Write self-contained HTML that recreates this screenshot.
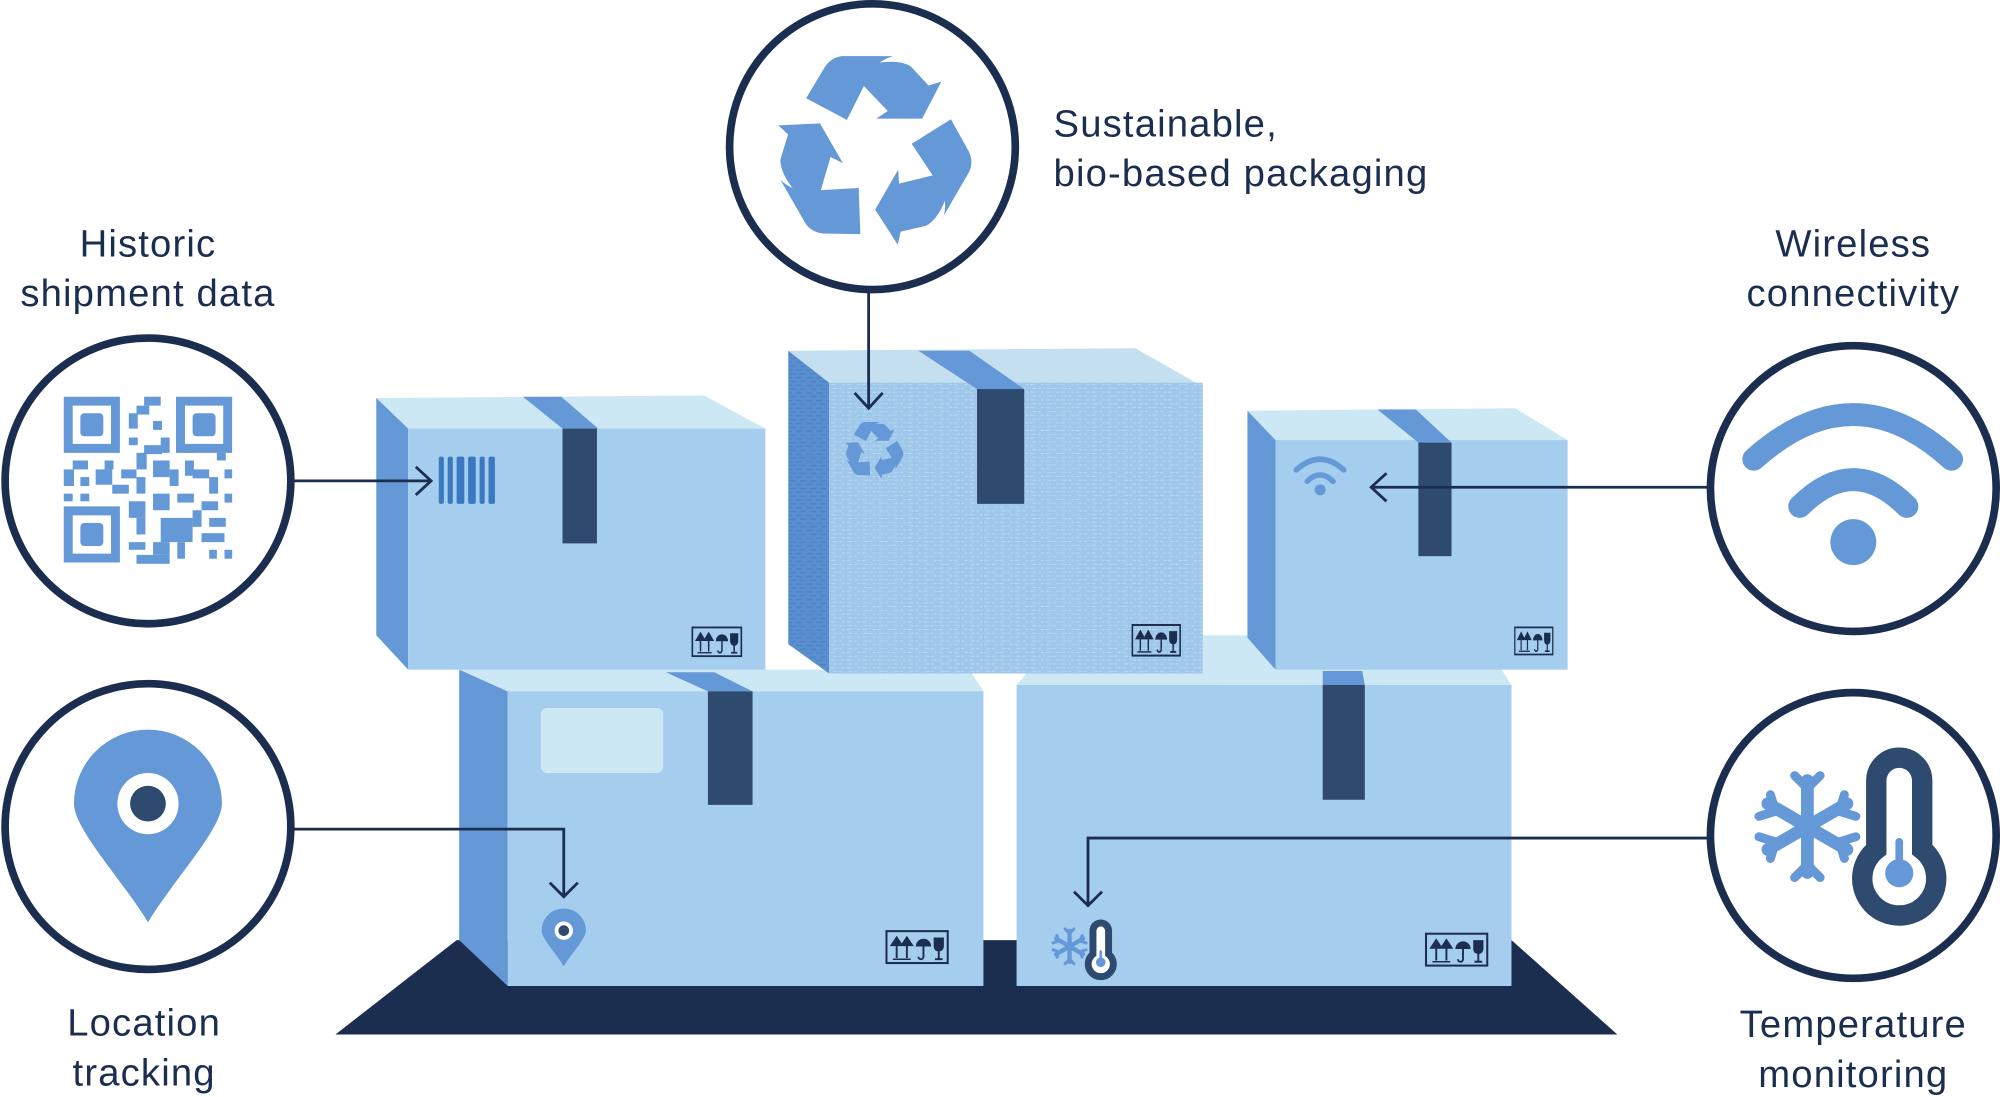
<!DOCTYPE html>
<html><head><meta charset="utf-8"><style>
html,body{margin:0;padding:0;background:#fff;}
svg{display:block;}
text{font-family:"Liberation Sans",sans-serif;fill:#1b2e50;font-size:30px;letter-spacing:0.9px;}
</style></head><body>
<svg width="2000" height="1097" viewBox="0 0 1568 860" xmlns="http://www.w3.org/2000/svg">
<defs>
<pattern id="tex" width="12" height="6" patternUnits="userSpaceOnUse">
<rect width="12" height="6" fill="#9fc8ea"/>
<path d="M0 1.5H7M5 4.5H12" stroke="#b8d8f0" stroke-width="0.8"/>
<path d="M3 0V3M9 3V6" stroke="#8fbbe2" stroke-width="0.5"/>
</pattern>
<pattern id="texs" width="8" height="6" patternUnits="userSpaceOnUse">
<rect width="8" height="6" fill="#5a8fcf"/>
<path d="M0 2H5M3 5H8" stroke="#4a80c2" stroke-width="0.8"/>
</pattern>
<g id="fragile">
<rect x="1" y="1" width="48" height="25" fill="none" stroke="#1b2e50" stroke-width="1.6"/>
<path d="M9 22V8M5 12L9 6L13 12Z M17 22V8M13 12L17 6L21 12Z" stroke="#1b2e50" stroke-width="1.5" fill="#1b2e50"/>
<path d="M6 23H20" stroke="#1b2e50" stroke-width="1.2"/>
<path d="M24 13A6 6 0 0 1 36 13Z" fill="#1b2e50"/>
<path d="M30 13V21A2 2 0 0 1 26 21" stroke="#1b2e50" stroke-width="1.5" fill="none"/>
<path d="M38 6H46V13A4 4 0 0 1 38 13Z" fill="#1b2e50"/>
<path d="M42 16V23M39 23H45" stroke="#1b2e50" stroke-width="1.5"/>
</g>
<g id="recyc">
<g id="seg">
<path d="M632 77L647 52Q652 45 660 44L700 44Q688 48 683 56L664 94Z" fill="#6498d6"/>
<path d="M675 65Q677 52 690 49Q706 47 714 52L728 67L738 64L723 93L687 93L696 87Z" fill="#6498d6"/>
</g>
<use href="#seg" transform="rotate(120 684 118)"/>
<use href="#seg" transform="rotate(240 684 118)"/>
</g>
<g id="therm">
<g fill="#6498d6" stroke="#6498d6">
<g stroke-width="10" stroke-linecap="round">
<path d="M1417 612V684M1386 630L1448 666M1386 666L1448 630"/>
</g>
<g stroke-width="7" stroke-linecap="round" fill="none">
<path d="M1407 608L1417 618L1427 608M1407 688L1417 678L1427 688"/>
<path d="M1379 640L1392 636L1388 623M1455 656L1442 660L1446 673"/>
<path d="M1379 656L1392 660L1388 673M1455 640L1442 636L1446 623"/>
</g>
</g>
<path d="M1471 612A18 18 0 0 1 1507 612V666A29 29 0 1 1 1471 666Z" fill="#fff" stroke="#2e4a6e" stroke-width="16"/>
<path d="M1486 660V674A11 11 0 1 0 1492 674V660A3 3 0 0 0 1486 660Z" fill="#6498d6"/>
</g>
<g id="pin">
<path d="M116 723C96 690 58 650 58 630A58 58 0 1 1 174 630C174 650 136 690 116 723Z" fill="#6498d6"/>
<circle cx="116" cy="630" r="24" fill="#fff"/>
<circle cx="116" cy="630" r="14" fill="#2e4a6e"/>
</g>
<g id="wifi">
<path d="M1375 360Q1453 290 1530 360" stroke="#6498d6" stroke-width="18" fill="none" stroke-linecap="round"/>
<path d="M1411 397Q1453 355 1495 397" stroke="#6498d6" stroke-width="18" fill="none" stroke-linecap="round"/>
<circle cx="1453" cy="425" r="18" fill="#6498d6"/>
</g>
</defs>

<polygon points="358,737 1185,737 1268,811 263,811" fill="#1b2e50"/>

<polygon points="797,537 830,498 1160,498 1185,537" fill="#cde8f5"/>
<rect x="797" y="537" width="388" height="236" fill="#a4cdee"/>
<polygon points="1037,526 1068,526 1070,537 1037,537" fill="#6498d6"/>
<rect x="1037" y="537" width="33" height="90" fill="#2e4a6e"/>
<use href="#fragile" transform="translate(1117,731)"/>
<use href="#therm" transform="translate(863,745) scale(0.34) translate(-1489,-657)"/>

<polygon points="360,525 760,525 771,542 398,542" fill="#cde8f5"/>
<polygon points="360,525 398,542 398,773 360,737" fill="#6498d6"/>
<rect x="398" y="542" width="373" height="231" fill="#a4cdee"/>
<polygon points="522,527 560,527 590,542 555,542" fill="#6498d6"/>
<rect x="555" y="542" width="35" height="89" fill="#2e4a6e"/>
<rect x="424" y="555" width="96" height="51" rx="5" fill="#cde8f5"/>
<use href="#fragile" transform="translate(694,729)"/>
<use href="#pin" transform="translate(442,735) scale(0.3) translate(-116,-648)"/>

<polygon points="295,312 552,310 600,336 320,336" fill="#cde8f5"/>
<polygon points="295,312 320,336 320,525 295,498" fill="#6498d6"/>
<rect x="320" y="336" width="280" height="189" fill="#a4cdee"/>
<polygon points="410,311 440,311 469,336 441,336" fill="#6498d6"/>
<rect x="441" y="336" width="27" height="90" fill="#2e4a6e"/>
<g fill="#3a78c0">
<rect x="344" y="358" width="4" height="37" rx="1.5"/><rect x="351" y="358" width="4" height="37" rx="1.5"/>
<rect x="358" y="358" width="6" height="37" rx="1.5"/><rect x="367" y="358" width="6" height="37" rx="1.5"/>
<rect x="376" y="358" width="4" height="37" rx="1.5"/><rect x="383" y="358" width="5" height="37" rx="1.5"/>
</g>
<use href="#fragile" transform="translate(542,491) scale(0.8,0.9)"/>

<polygon points="618,275 890,273 943,303 650,300" fill="#c3dff0"/>
<polygon points="618,275 650,300 650,528 618,505" fill="url(#texs)"/>
<rect x="650" y="300" width="293" height="228" fill="url(#tex)"/>
<polygon points="720,275 760,275 803,305 766,305" fill="#6498d6"/>
<rect x="766" y="305" width="37" height="90" fill="#2e4a6e"/>
<use href="#recyc" transform="translate(685,353) scale(0.3) translate(-684,-118)"/>
<use href="#fragile" transform="translate(887,489) scale(0.78,0.96)"/>

<polygon points="978,322 1188,320 1229,345 1000,345" fill="#cde8f5"/>
<polygon points="978,322 1000,345 1000,525 978,500" fill="#6498d6"/>
<rect x="1000" y="345" width="229" height="180" fill="#a4cdee"/>
<polygon points="1080,321 1110,321 1138,347 1112,347" fill="#6498d6"/>
<rect x="1112" y="347" width="26" height="89" fill="#2e4a6e"/>
<use href="#wifi" transform="translate(1035,372) scale(0.24) translate(-1453,-375)"/>
<use href="#fragile" transform="translate(1187,491) scale(0.62,0.85)"/>

<g stroke="#1b2e50" stroke-width="2.2" fill="none">
<path d="M681 228V320M670 308L681 320L692 308"/>
<path d="M229 377H338M326 366L338 377L326 388"/>
<path d="M229 650H442V703M431 692L442 703L453 692"/>
<path d="M1340 382H1075M1087 371L1075 382L1087 393"/>
<path d="M1340 657H853V710M842 699L853 710L864 699"/>
</g>

<g fill="#fff" stroke="#1b2e50" stroke-width="6">
<circle cx="684" cy="115" r="112"/>
<circle cx="116" cy="377" r="112"/>
<circle cx="116" cy="648" r="112"/>
<circle cx="1453" cy="383" r="112"/>
<circle cx="1453" cy="655" r="112"/>
</g>
<use href="#recyc"/>
<use href="#pin"/>
<use href="#wifi"/>
<use href="#therm"/>

<g fill="#6498d6">
<path fill-rule="evenodd" d="M50 311h44v44h-44z M57 318v30h30v-30z"/><rect x="63" y="324" width="18" height="18" rx="3"/>
<path fill-rule="evenodd" d="M138 311h44v44h-44z M145 318v30h30v-30z"/><rect x="151" y="324" width="18" height="18" rx="3"/>
<path fill-rule="evenodd" d="M50 397h44v44h-44z M57 404v30h30v-30z"/><rect x="63" y="410" width="18" height="18" rx="3"/>
<rect x="113" y="311" width="13" height="7"/><rect x="107" y="318" width="10" height="7"/><rect x="101" y="324" width="7" height="12"/>
<rect x="120" y="330" width="7" height="7"/><rect x="101" y="343" width="7" height="6"/><rect x="126" y="343" width="7" height="12"/>
<rect x="113" y="349" width="14" height="7"/><rect x="107" y="355" width="8" height="13"/>
<rect x="57" y="361" width="12" height="7"/><rect x="50" y="368" width="8" height="13"/><rect x="63" y="374" width="7" height="7"/>
<rect x="50" y="387" width="7" height="6"/><rect x="63" y="387" width="7" height="6"/>
<rect x="82" y="361" width="7" height="7"/><rect x="75" y="368" width="13" height="12"/><rect x="95" y="368" width="12" height="7"/>
<rect x="88" y="380" width="13" height="7"/><rect x="107" y="374" width="7" height="13"/><rect x="120" y="361" width="13" height="13"/>
<rect x="133" y="368" width="7" height="13"/><rect x="145" y="361" width="7" height="12"/><rect x="151" y="368" width="13" height="7"/>
<rect x="164" y="374" width="7" height="13"/><rect x="176" y="368" width="6" height="7"/><rect x="176" y="387" width="6" height="7"/>
<rect x="101" y="393" width="13" height="13"/><rect x="120" y="387" width="13" height="13"/><rect x="139" y="387" width="13" height="7"/>
<rect x="158" y="393" width="13" height="7"/><rect x="107" y="406" width="7" height="13"/><rect x="126" y="406" width="25" height="19"/>
<rect x="151" y="400" width="7" height="13"/><rect x="164" y="406" width="13" height="7"/><rect x="158" y="418" width="18" height="7"/>
<rect x="101" y="425" width="13" height="6"/><rect x="120" y="425" width="13" height="10"/><rect x="139" y="425" width="6" height="13"/>
<rect x="107" y="435" width="26" height="7"/><rect x="164" y="431" width="6" height="7"/><rect x="176" y="431" width="6" height="7"/>
<rect x="145" y="349" width="7" height="6"/><rect x="170" y="355" width="7" height="6"/>
</g>

<text x="826" y="107">Sustainable,</text>
<text x="826" y="146">bio-based packaging</text>
<text x="116" y="201" text-anchor="middle">Historic</text>
<text x="116" y="240" text-anchor="middle">shipment data</text>
<text x="1453" y="201" text-anchor="middle">Wireless</text>
<text x="1453" y="240" text-anchor="middle">connectivity</text>
<text x="113" y="812" text-anchor="middle">Location</text>
<text x="113" y="851" text-anchor="middle">tracking</text>
<text x="1453" y="813" text-anchor="middle">Temperature</text>
<text x="1453" y="852" text-anchor="middle">monitoring</text>
</svg>
</body></html>
